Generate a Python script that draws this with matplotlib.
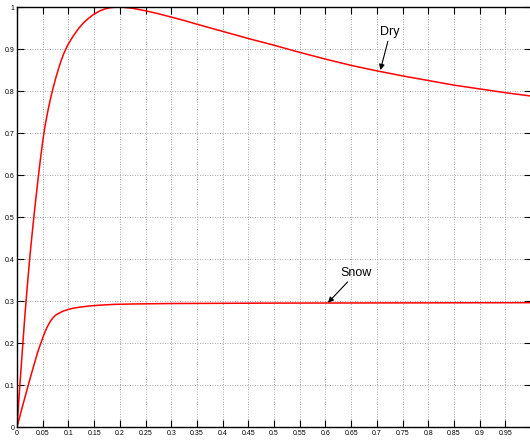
import numpy as np
import matplotlib

matplotlib.use("Agg")
import matplotlib.pyplot as plt
from matplotlib.ticker import FormatStrFormatter

plt.rcParams["font.family"] = ["Liberation Sans", "DejaVu Sans"]

# friction coefficient vs. longitudinal slip, dry asphalt
dry_slip = [0, 0.005, 0.01, 0.015, 0.02, 0.025, 0.03, 0.035, 0.04, 0.045,
            0.05, 0.055, 0.06, 0.065, 0.07, 0.075, 0.08, 0.085, 0.09, 0.095,
            0.1, 0.11, 0.12, 0.13, 0.14, 0.15, 0.16, 0.17, 0.18, 0.19, 0.2,
            0.225, 0.25, 0.275, 0.3, 0.325, 0.35, 0.4, 0.45, 0.5, 0.55, 0.6,
            0.65, 0.7, 0.75, 0.8, 0.85, 0.9, 0.95, 1.0]
dry_mu = [0, 0.09, 0.175, 0.26, 0.335, 0.405, 0.467, 0.525, 0.58, 0.632,
          0.68, 0.72, 0.752, 0.781, 0.806, 0.829, 0.85, 0.869, 0.886, 0.9,
          0.912, 0.932, 0.949, 0.963, 0.974, 0.983, 0.99, 0.995, 0.998, 0.9995, 1.0,
          0.997, 0.991, 0.984, 0.976, 0.968, 0.959, 0.942, 0.925, 0.909, 0.892, 0.876,
          0.861, 0.848, 0.836, 0.825, 0.814, 0.805, 0.796, 0.788]

# same, snow covered road
snow_slip = [0, 0.01, 0.02, 0.03, 0.04, 0.045, 0.05, 0.055, 0.06, 0.065,
             0.07, 0.075, 0.08, 0.09, 0.1, 0.11, 0.12, 0.14, 0.16, 0.19,
             0.23, 0.3, 0.5, 0.75, 1.0]
snow_mu = [0, 0.046, 0.091, 0.135, 0.177, 0.195, 0.212, 0.228, 0.241, 0.252,
           0.26, 0.266, 0.27, 0.276, 0.28, 0.283, 0.285, 0.288, 0.29, 0.292,
           0.293, 0.294, 0.295, 0.2955, 0.296]

x_ticks = np.arange(0, 1.0001, 0.05)
y_ticks = np.arange(0, 1.0001, 0.1)

fig = plt.figure(figsize=(5.30, 4.42), dpi=100)
ax = fig.add_axes([17 / 530, 15 / 442, 514 / 530, 420 / 442])

ax.plot(dry_slip, dry_mu, color="red", lw=1.1)
ax.plot(snow_slip, snow_mu, color="red", lw=1.1)

ax.set_xlim(0, 1)
ax.set_ylim(0, 1)
ax.set_xticks(x_ticks)
ax.set_yticks(y_ticks)
ax.xaxis.set_major_formatter(FormatStrFormatter("%g"))
ax.yaxis.set_major_formatter(FormatStrFormatter("%g"))
ax.tick_params(direction="in", length=5, width=0.8, labelsize=5, pad=2,
               top=True, right=True, colors="black")
ax.grid(True, color="#8c8c8c", linestyle=(0, (1, 2)), lw=0.6)
for sp in ax.spines.values():
    sp.set_linewidth(1.0)

arrow = dict(arrowstyle="-|>", color="black", lw=0.8, mutation_scale=8,
             shrinkA=0, shrinkB=0)
ax.annotate("Dry", xy=(0.707, 0.85), xytext=(0.726, 0.925), fontsize=9,
            ha="center", va="bottom", arrowprops=arrow)
ax.annotate("Snow", xy=(0.605, 0.296), xytext=(0.629, 0.352), fontsize=9,
            ha="left", va="bottom", arrowprops=arrow)

fig.savefig("out.png", dpi=100)
